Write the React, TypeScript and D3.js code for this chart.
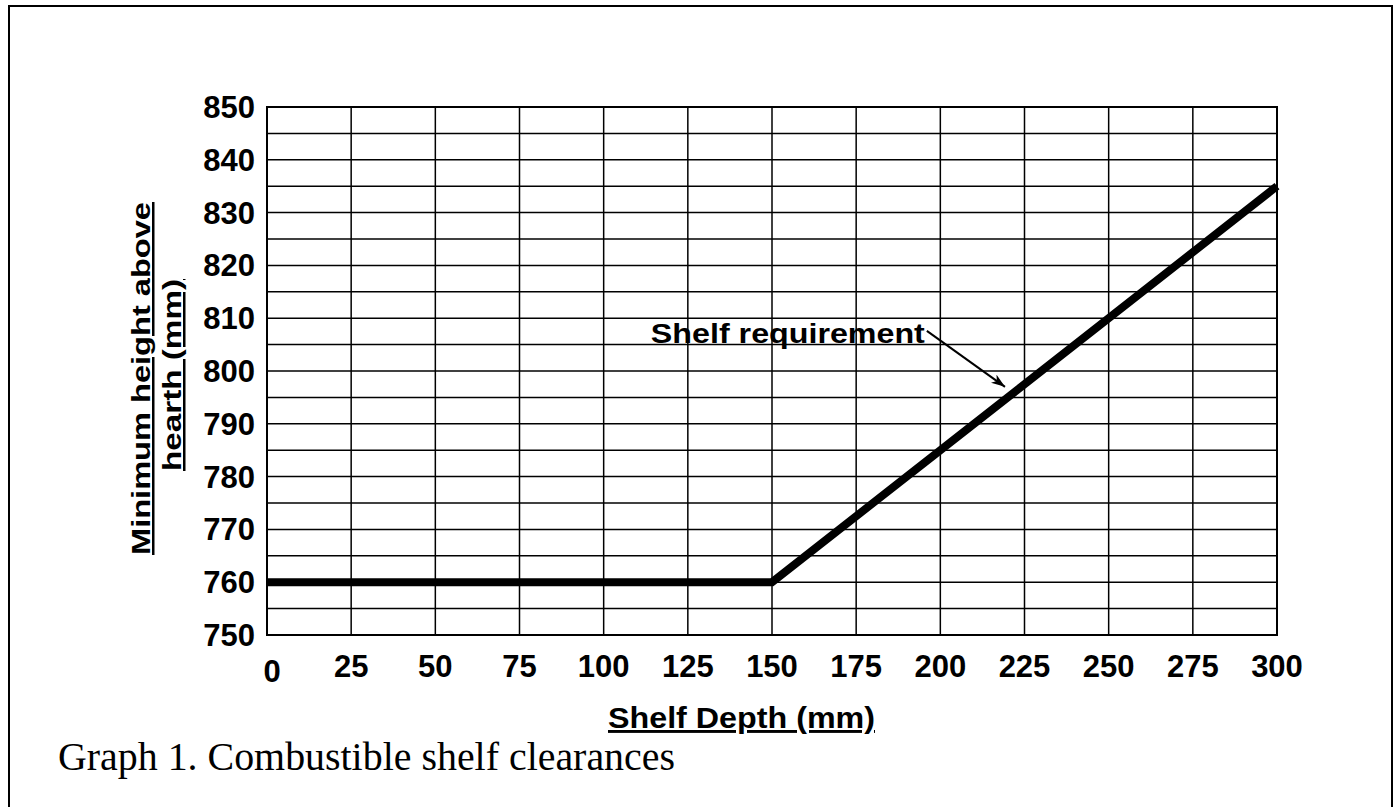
import React from "react";
import { scaleLinear, line, range } from "d3";

// shelf depth (mm) vs minimum height above hearth (mm)
const shelfDepth = [0, 150, 300];
const minHeight = [760, 760, 835];

const xTicks = range(0, 301, 25);
const yTicks = range(750, 851, 10);
const yGrid = range(750, 851, 5);

// annotation: label end and arrow tip, in data units
const labelAt = { x: 196, y: 807.6 };
const arrowTip = { x: 219.2, y: 797 };

const W = 1396;
const H = 807;
const sans = "'Liberation Sans', Arial, sans-serif";

const App = () => {
  const x = scaleLinear().domain([0, 300]).range([267, 1277]);
  const y = scaleLinear().domain([750, 850]).range([635, 107]);

  const pts: [number, number][] = shelfDepth.map((d, i) => [d, minHeight[i]]);
  const path = line<[number, number]>()
    .x(d => x(d[0]))
    .y(d => y(d[1]))(pts);

  return (
    <div style={{ position: "absolute", left: 0, top: 0 }}>
      <svg width={W} height={H} style={{ display: "block", background: "#fff" }}>
        <defs>
          <marker
            id="arrow"
            viewBox="0 0 14 10"
            refX="14"
            refY="5"
            markerWidth="14"
            markerHeight="10"
            markerUnits="userSpaceOnUse"
            orient="auto"
          >
            <path d="M0,0 L14,5 L0,10 L4,5 z" fill="#000" />
          </marker>
        </defs>
        <rect x={9} y={6} width={1383} height={830} fill="none" stroke="#000" strokeWidth={2} />

        {/* grid */}
        <g stroke="#000" strokeWidth={1.5}>
          {yGrid.map(v => (
            <line key={"h" + v} x1={x(0)} x2={x(300)} y1={y(v)} y2={y(v)} />
          ))}
          {xTicks.map(v => (
            <line key={"v" + v} x1={x(v)} x2={x(v)} y1={y(750)} y2={y(850)} />
          ))}
        </g>
        <rect
          x={x(0)}
          y={y(850)}
          width={x(300) - x(0)}
          height={y(750) - y(850)}
          fill="none"
          stroke="#000"
          strokeWidth={2}
        />

        {/* tick labels */}
        <g fontFamily={sans} fontWeight="bold" fontSize={31} fill="#000">
          {yTicks.map(v => (
            <text key={"yl" + v} x={255} y={y(v) + 11} textAnchor="end">
              {v}
            </text>
          ))}
          {xTicks.map((v, i) => (
            <text
              key={"xl" + v}
              x={x(v) + (i === 0 ? 5 : 0)}
              y={y(750) + 42 + (i === 0 ? 5 : 0)}
              textAnchor="middle"
            >
              {v}
            </text>
          ))}
        </g>

        {/* series */}
        <path d={path || ""} fill="none" stroke="#000" strokeWidth={8} strokeLinejoin="miter" />

        {/* annotation */}
        <line
          x1={x(labelAt.x)}
          y1={y(labelAt.y)}
          x2={x(arrowTip.x)}
          y2={y(arrowTip.y)}
          stroke="#000"
          strokeWidth={2}
          markerEnd="url(#arrow)"
        />
        <text
          x={x(labelAt.x) - 2}
          y={y(labelAt.y) + 12}
          textAnchor="end"
          fontFamily={sans}
          fontWeight="bold"
          fontSize={28}
          textLength={274}
          lengthAdjust="spacingAndGlyphs"
        >
          Shelf requirement
        </text>

        {/* axis titles */}
        <text
          x={608}
          y={728}
          fontFamily={sans}
          fontWeight="bold"
          fontSize={29}
          textLength={267}
          lengthAdjust="spacingAndGlyphs"
          style={{ textDecoration: "underline" }}
        >
          Shelf Depth (mm)
        </text>
        <g fontFamily={sans} fontWeight="bold" fontSize={25} style={{ textDecoration: "underline" }}>
          <text
            transform="translate(150,378.5) rotate(-90)"
            textAnchor="middle"
            textLength={353}
            lengthAdjust="spacingAndGlyphs"
          >
            Minimum height above
          </text>
          <text
            transform="translate(181,375) rotate(-90)"
            textAnchor="middle"
            textLength={192}
            lengthAdjust="spacingAndGlyphs"
          >
            hearth (mm)
          </text>
        </g>

        {/* caption */}
        <text
          x={58}
          y={770}
          fontFamily="'Liberation Serif', 'Times New Roman', serif"
          fontSize={39}
          textLength={617}
          lengthAdjust="spacingAndGlyphs"
        >
          Graph 1. Combustible shelf clearances
        </text>
      </svg>
    </div>
  );
};

export default App;
